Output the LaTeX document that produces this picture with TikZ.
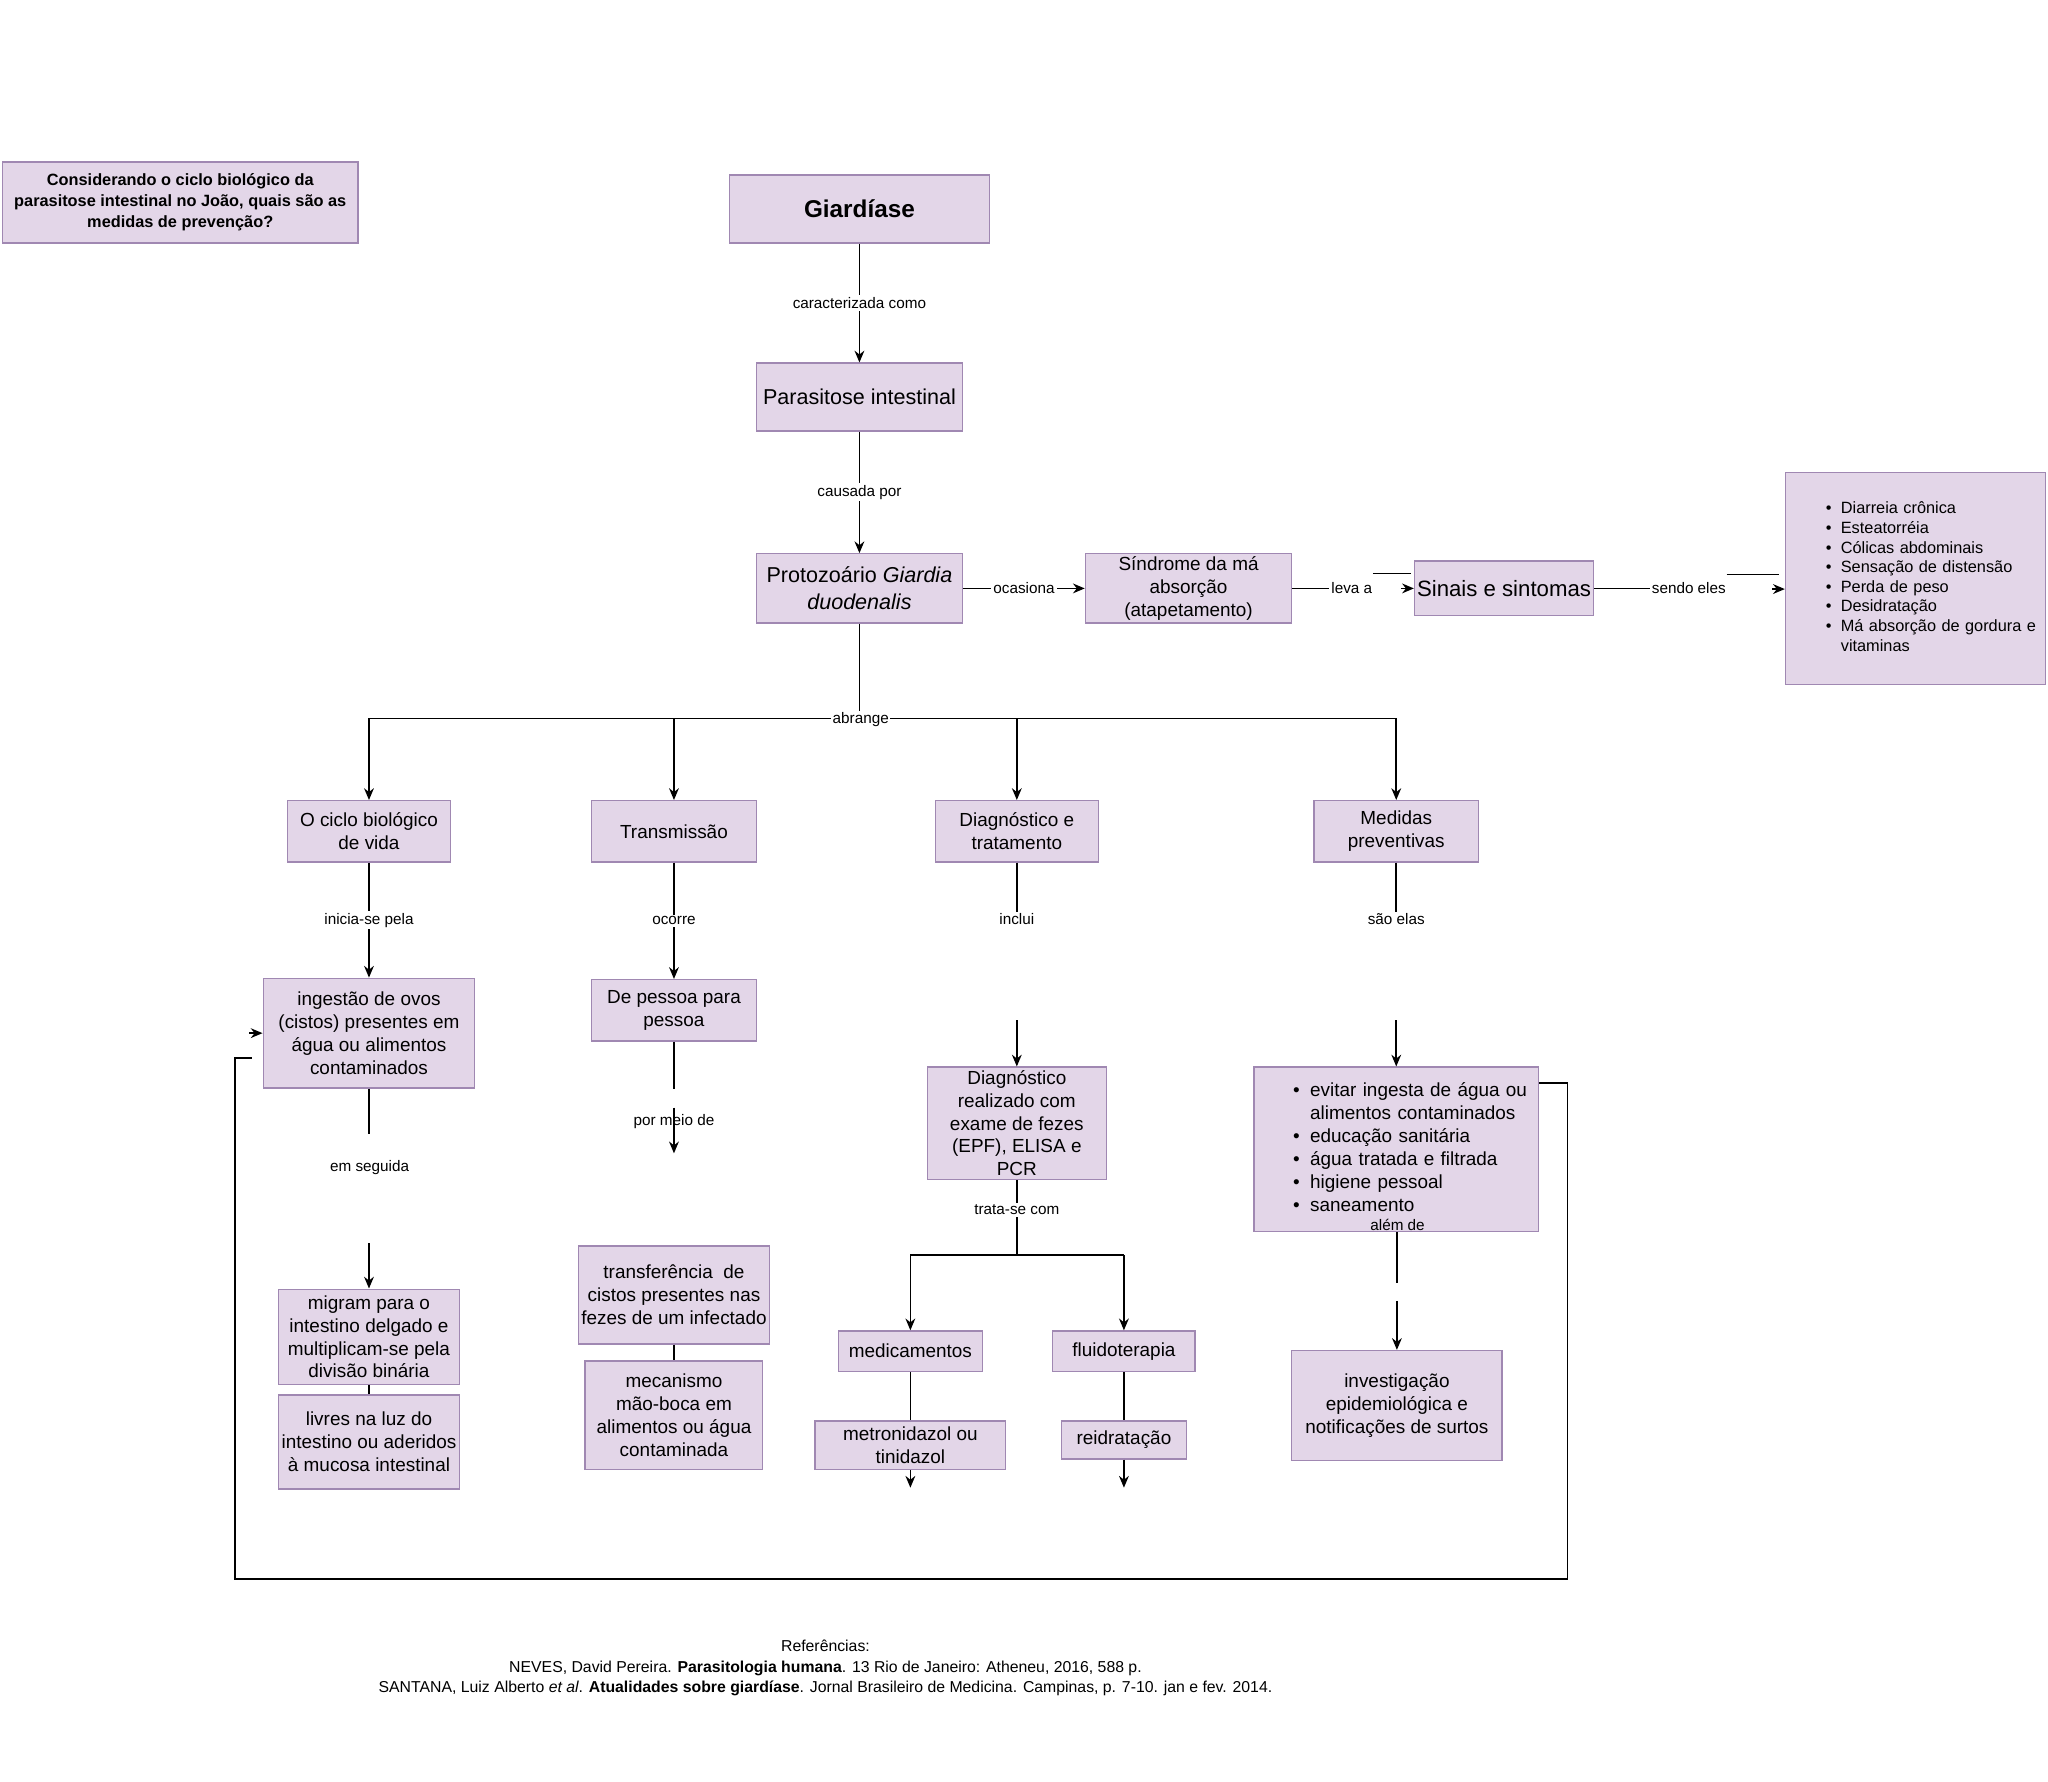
\documentclass[tikz,border=0pt]{standalone}
\usepackage{fontspec}
\setmainfont{Liberation Sans}
\usetikzlibrary{arrows.meta}
\definecolor{boxfill}{HTML}{E3D6E8}
\definecolor{boxline}{HTML}{A088B2}
\newcommand{\fsz}[2]{\fontsize{#1}{#2}\selectfont}
\begin{document}
\begin{tikzpicture}[x=1pt,y=-1pt,
  box/.style={draw=boxline, fill=boxfill, line width=1pt, inner sep=0pt, align=center},
  lbl/.style={fill=white, inner sep=1.5pt, font=\fsz{11.7}{14}},
  plain/.style={inner sep=0pt, font=\fsz{11.7}{14}},
  conn/.style={line width=1.2pt, draw=black},
  arr/.style={conn, -{Stealth[length=9pt,width=7.5pt]}},
  body/.style={font=\fsz{14.5}{17.5}}]
\useasboundingbox (0,0) rectangle (1568,1364);
\fill[white] (0,0) rectangle (1568,1364);

% ---- top
\node[box, minimum width=272, minimum height=62, font=\bfseries\fsz{12.5}{16}] (q) at (138,155)
  {Considerando o ciclo biológico da\\parasitose intestinal no João, quais são as\\medidas de prevenção?};
\node[box, minimum width=199, minimum height=52, font=\bfseries\fsz{18.6}{22}] (giar) at (658,160) {Giardíase};
\node[box, minimum width=158, minimum height=52, font=\fsz{16.5}{20}] (para) at (658,304) {Parasitose intestinal};
\node[box, minimum width=158, minimum height=53, font=\fsz{16.5}{21}] (proto) at (658,450.5)
  {Protozoário \textit{Giardia}\\\textit{duodenalis}};
\node[box, body, minimum width=158, minimum height=53] (sind) at (910,450.5)
  {Síndrome da má\\absorção\\(atapetamento)};
\node[box, minimum width=137, minimum height=42, font=\fsz{17}{20}] (sin) at (1151.5,450.5) {Sinais e sintomas};
\node[box, minimum width=199, minimum height=162, text width=199, align=left, font=\fsz{12.5}{15}] (list) at (1466.5,443)
  {\hspace*{31pt}\begin{tabular}{@{}l@{\hspace{7pt}}l@{}}
   \textbullet & Diarreia crônica\\
   \textbullet & Esteatorréia\\
   \textbullet & Cólicas abdominais\\
   \textbullet & Sensação de distensão\\
   \textbullet & Perda de peso\\
   \textbullet & Desidratação\\
   \textbullet & Má absorção de gordura e\\
               & vitaminas
   \end{tabular}};

% ---- second row
\node[box, body, minimum width=125, minimum height=47] (cyc) at (282.5,636.5) {O ciclo biológico\\de vida};
\node[box, body, minimum width=126, minimum height=47] (trans) at (516,636.5) {Transmissão};
\node[box, body, minimum width=125, minimum height=47] (diag) at (778.5,636.5) {Diagnóstico e\\tratamento};
\node[box, body, minimum width=126, minimum height=47] (med) at (1069,636.5) {Medidas\\preventivas};

% ---- lower boxes
\node[box, body, minimum width=162, minimum height=84] (ing) at (282.5,791)
  {ingestão de ovos\\(cistos) presentes em\\água ou alimentos\\contaminados};
\node[box, body, minimum width=126, minimum height=47] (pess) at (516,773.5) {De pessoa para\\pessoa};
\node[box, font=\fsz{14.5}{17.3}, minimum width=137, minimum height=86] (diagr) at (778.5,860)
  {Diagnóstico\\realizado com\\exame de fezes\\(EPF), ELISA e\\PCR};
\node[box, minimum width=218, minimum height=126, text width=218, align=left, font=\fsz{14.5}{17.6}] (prev) at (1069,880)
  {\hspace*{30pt}\begin{tabular}{@{}l@{\hspace{8pt}}l@{}}
   \textbullet & evitar ingesta de água ou\\
               & alimentos contaminados\\
   \textbullet & educação sanitária\\
   \textbullet & água tratada e filtrada\\
   \textbullet & higiene pessoal\\
   \textbullet & saneamento
   \end{tabular}};
\node[box, body, minimum width=139, minimum height=73] (mig) at (282.5,1023.5)
  {migram para o\\intestino delgado e\\multiplicam-se pela\\divisão binária};
\node[box, body, minimum width=139, minimum height=72] (liv) at (282.5,1104)
  {livres na luz do\\intestino ou aderidos\\à mucosa intestinal};
\node[box, body, minimum width=146, minimum height=75] (transf) at (516,991.5)
  {transferência\ \ de\\cistos presentes nas\\fezes de um infectado};
\node[box, body, minimum width=136, minimum height=83] (mec) at (516,1083.5)
  {mecanismo\\mão-boca em\\alimentos ou água\\contaminada};
\node[box, body, minimum width=110, minimum height=31] (medic) at (697,1034.5) {medicamentos};
\node[box, body, minimum width=109, minimum height=31] (fluid) at (860.5,1034.5) {fluidoterapia};
\node[box, body, minimum width=146, minimum height=37] (metro) at (697,1106.5) {metronidazol ou\\tinidazol};
\node[box, body, minimum width=96, minimum height=29] (reid) at (860.5,1102.5) {reidratação};
\node[box, body, minimum width=161, minimum height=84] (inv) at (1069.5,1076)
  {investigação\\epidemiológica e\\notificações de surtos};

% ---- top connectors
\draw[arr] (giar) -- node[lbl]{caracterizada como} (para);
\draw[arr] (para) -- node[lbl]{causada por} (proto);
\draw[arr] (proto) -- node[lbl]{ocasiona} (sind);

\node[lbl] (lv) at (1035,450.5) {leva a};
\draw[conn] (sind.east) -- (lv.west);
\coordinate (s1a) at (1051,439); \coordinate (s1b) at (1080,439);
\draw[line width=1pt] (s1a) -- (s1b);
\coordinate (a1) at (1073,450.5);
\draw[arr] (a1) -- (a1 -| sin.west);

\node[lbl] (se) at (1293,450.5) {sendo eles};
\draw[conn] (sin.east) -- (se.west);
\coordinate (s2a) at (1322,440); \coordinate (s2b) at (1362,440);
\draw[line width=1pt] (s2a) -- (s2b);
\coordinate (a2) at (1357,451);
\draw[arr] (a2) -- (a2 -| list.west);

% ---- abrange
\coordinate (hub) at (658,550);
\draw[conn] (proto) -- (hub);
\draw[conn] (cyc.north |- hub) -- (med.north |- hub);
\node[lbl, inner sep=1pt] at (659,551) {abrange};
\foreach \n in {cyc,trans,diag,med} \draw[arr] (\n.north |- hub) -- (\n.north);

% ---- column 1
\draw[arr] (cyc) -- node[lbl]{inicia-se pela} (ing);
\coordinate (c1a) at (282.5,868); \coordinate (c1b) at (282.5,952);
\draw[conn] (ing.south) -- (ing.south |- c1a);
\node[plain] (l1) at (283,894) {em seguida};
\draw[arr] (mig.north |- c1b) -- (mig.north);
\draw[conn] (mig) -- (liv);

% ---- column 2
\draw[arr] (trans) -- node[lbl]{ocorre} (pess);
\coordinate (c2a) at (516,834); \coordinate (c2b) at (516,848); \coordinate (c2c) at (516,883);
\node[plain] (l2) at (516,859) {por meio de};
\draw[conn] (pess.south) -- (c2a);
\draw[arr] (c2b) -- (c2c);
\draw[conn] (transf) -- (mec);

% ---- column 3
\node[lbl] (l3) at (778.5,704) {inclui};
\draw[conn] (diag.south) -- (l3.north);
\coordinate (c3a) at (778.5,781);
\draw[arr] (c3a) -- (diagr.north);
\coordinate (split) at (778.5,961);
\draw[conn] (diagr.south) -- node[lbl, pos=0.4]{trata-se com} (split);
\draw[conn] (medic.north |- split) -- (fluid.north |- split);
\draw[arr] (medic.north |- split) -- (medic.north);
\draw[arr] (fluid.north |- split) -- (fluid.north);
\draw[conn] (medic) -- (metro);
\draw[conn] (fluid) -- (reid);
\coordinate (e1) at (697,1139); \coordinate (e2) at (860.5,1139);
\draw[arr] (metro.south) -- (e1);
\draw[arr] (reid.south) -- (e2);

% ---- column 4
\node[lbl] (l4) at (1069,704) {são elas};
\draw[conn] (med.south) -- (l4.north);
\coordinate (c4a) at (1069,781);
\draw[arr] (c4a) -- (prev.north);
\node[plain] (l5) at (1070,938) {além de};
\coordinate (c4b) at (1069.5,982); \coordinate (c4c) at (1069.5,996);
\draw[conn] (prev.south -| c4b) -- (c4b);
\draw[arr] (c4c) -- (inv.north);

% ---- feedback loop
\coordinate (lp1) at (1200,829); \coordinate (lp2) at (1200,1209);
\coordinate (lp3) at (180,1209); \coordinate (lp4) at (180,810); \coordinate (lp5) at (193,810);
\draw[conn] (prev.east |- lp1) -- (lp1) -- (lp2) -- (lp3) -- (lp4) -- (lp5);
\coordinate (lp6) at (191,791);
\draw[arr] (lp6) -- (ing.west);

% ---- references
\node[align=center, inner sep=0pt, font=\fsz{12.1}{15.5}] (ref) at (632,1277)
  {Referências:\\
   NEVES, David Pereira. \textbf{Parasitologia humana}. 13 Rio de Janeiro: Atheneu, 2016, 588 p.\\
   SANTANA, Luiz Alberto \textit{et al}. \textbf{Atualidades sobre giardíase}. Jornal Brasileiro de Medicina. Campinas, p. 7-10. jan e fev. 2014.};
\end{tikzpicture}
\end{document}
